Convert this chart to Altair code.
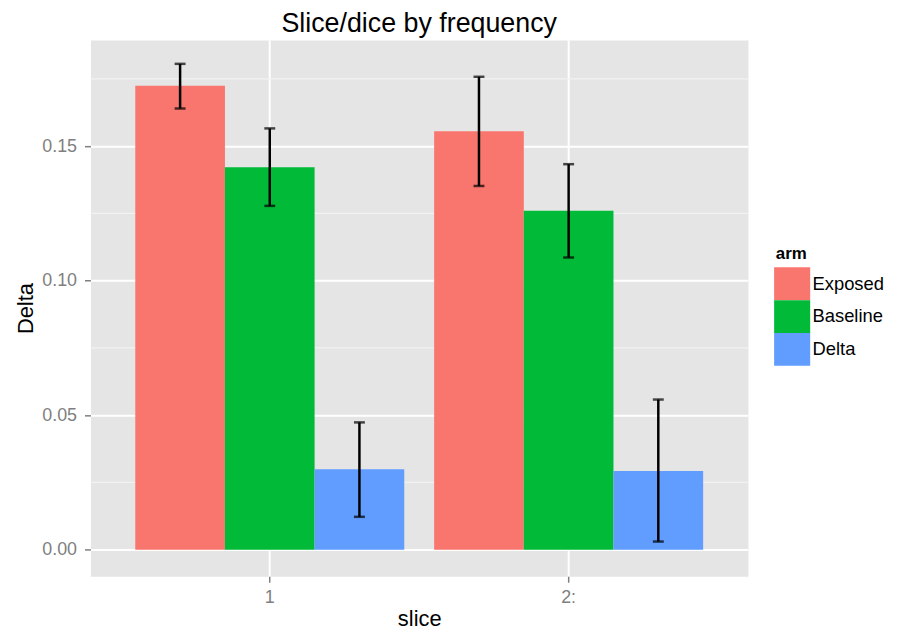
import altair as alt
import pandas as pd

slices = ["1", "1", "1", "2:", "2:", "2:"]
arms = ["Exposed", "Baseline", "Delta", "Exposed", "Baseline", "Delta"]
values = [0.1725, 0.1422, 0.0299, 0.1555, 0.1260, 0.0292]
lower = [0.1640, 0.1278, 0.0122, 0.1352, 0.1086, 0.0030]
upper = [0.1806, 0.1566, 0.0473, 0.1758, 0.1433, 0.0558]

arm_order = ["Exposed", "Baseline", "Delta"]
arm_colors = ["#F8766D", "#00BA38", "#619CFF"]
y_ticks = [0.0, 0.05, 0.10, 0.15]
minor_ticks = [0.025, 0.075, 0.125, 0.175]

df = pd.DataFrame({"slice": slices, "arm": arms, "value": values,
                   "lower": lower, "upper": upper})
minor_df = pd.DataFrame({"m": minor_ticks})

FONT = "Liberation Sans"
ydom = [-0.0099, 0.1895]

x_enc = alt.X("slice:N", title="slice", sort=["1", "2:"],
              scale=alt.Scale(paddingInner=0.1, paddingOuter=0.15),
              axis=alt.Axis(bandPosition=0.5, labelAngle=0, grid=True,
                            gridColor="white", gridWidth=2,
                            tickColor="#7F7F7F", tickSize=6, tickWidth=1.5,
                            labelColor="#7F7F7F", labelFontSize=18,
                            labelPadding=6, titleFontSize=22,
                            titleFontWeight="normal", titlePadding=3,
                            domain=False))
y_scale = alt.Scale(domain=ydom, nice=False, zero=False)
y_axis = alt.Axis(values=y_ticks, format=".2f", grid=True, gridColor="white",
                  gridWidth=2, tickColor="#7F7F7F", tickSize=6, tickWidth=1.5,
                  labelColor="#7F7F7F", labelFontSize=18, labelPadding=8,
                  titleFontSize=22, titleFontWeight="normal", titlePadding=4,
                  domain=False)

minor = alt.Chart(minor_df).mark_rule(color="#F2F2F2", strokeWidth=1.2).encode(
    y=alt.Y("m:Q", scale=y_scale, axis=y_axis, title="Delta")
)

bars = alt.Chart(df).mark_bar().encode(
    x=x_enc,
    xOffset=alt.XOffset("arm:N", sort=arm_order,
                        scale=alt.Scale(paddingInner=0, paddingOuter=0)),
    y=alt.Y("value:Q", scale=y_scale, axis=y_axis, title="Delta"),
    color=alt.Color("arm:N", sort=arm_order,
                    scale=alt.Scale(domain=arm_order, range=arm_colors),
                    legend=alt.Legend(title="arm", orient="none",
                                      legendX=690, legendY=208,
                                      symbolType="M-1.1,-1H1.1V1H-1.1Z",
                                      symbolSize=1089, symbolStrokeWidth=0,
                                      rowPadding=0, labelFontSize=18.5,
                                      titleFontSize=17, labelOffset=4,
                                      padding=0, titlePadding=4)),
)

rules = alt.Chart(df).mark_rule(color="black", strokeWidth=2.5).encode(
    x=alt.X("slice:N", sort=["1", "2:"]),
    xOffset=alt.XOffset("arm:N", sort=arm_order),
    y=alt.Y("lower:Q", scale=y_scale),
    y2="upper:Q",
)

caps_lo = alt.Chart(df).mark_tick(color="black", size=11, thickness=2.5,
                                   orient="horizontal").encode(
    x=alt.X("slice:N", sort=["1", "2:"]),
    xOffset=alt.XOffset("arm:N", sort=arm_order),
    y=alt.Y("lower:Q", scale=y_scale),
)
caps_hi = alt.Chart(df).mark_tick(color="black", size=11, thickness=2.5,
                                   orient="horizontal").encode(
    x=alt.X("slice:N", sort=["1", "2:"]),
    xOffset=alt.XOffset("arm:N", sort=arm_order),
    y=alt.Y("upper:Q", scale=y_scale),
)

chart = alt.layer(minor, bars, rules, caps_lo, caps_hi).properties(
    width=662, height=540,
    title=alt.Title("Slice/dice by frequency", fontSize=27,
                    fontWeight="normal", anchor="middle", offset=2),
    padding={"left": 6, "top": 0, "right": 5, "bottom": 0},
).configure(font=FONT).configure_view(
    fill="#E5E5E5", stroke="transparent"
).configure_legend(titleFont=FONT, labelFont=FONT, titleFontWeight="bold")

chart.save("out.html", embed_options={"renderer": "svg", "actions": False})
